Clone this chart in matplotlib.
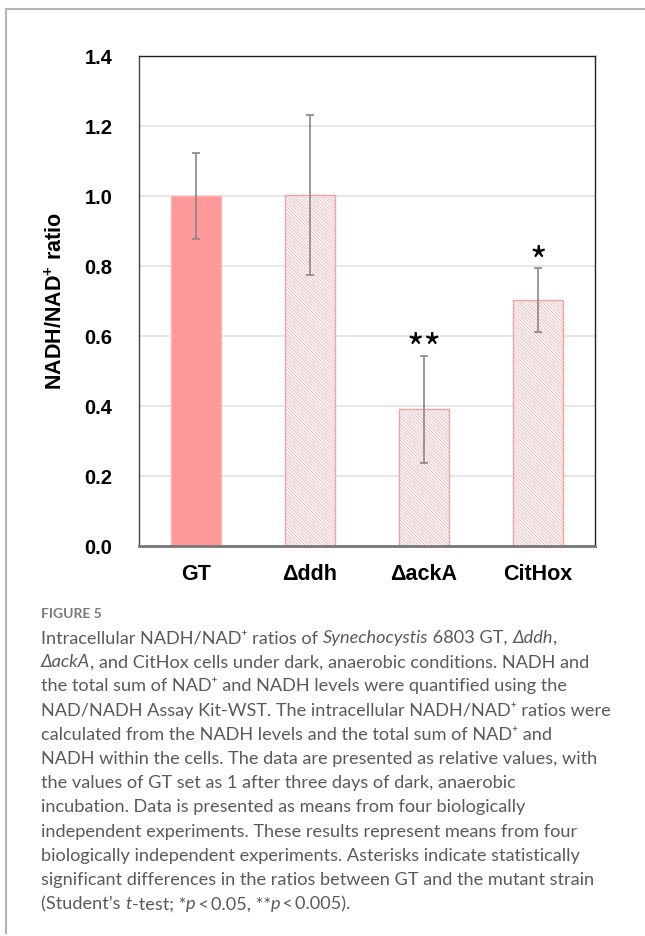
import matplotlib
matplotlib.use('Agg')
import matplotlib.pyplot as plt
from matplotlib.lines import Line2D


strains = ['GT', 'Δddh', 'ΔackA', 'CitHox']
ratio = [1.000, 1.002, 0.391, 0.702]
ratio_err = [0.123, 0.228, 0.153, 0.091]
stars = ['', '', '**', '*']
yticks = [0.0, 0.2, 0.4, 0.6, 0.8, 1.0, 1.2, 1.4]

# caption, one entry per printed line: (text, italic)
caption = [
    [('Intracellular NADH/NAD⁺ ratios of ', 0), ('Synechocystis', 1),
     (' 6803 GT, ', 0), ('Δddh', 1), (',', 0)],
    [('ΔackA', 1), (', and CitHox cells under dark, anaerobic conditions. NADH and', 0)],
    [('the total sum of NAD⁺ and NADH levels were quantified using the', 0)],
    [('NAD/NADH Assay Kit-WST. The intracellular NADH/NAD⁺ ratios were', 0)],
    [('calculated from the NADH levels and the total sum of NAD⁺ and', 0)],
    [('NADH within the cells. The data are presented as relative values, with', 0)],
    [('the values of GT set as 1 after three days of dark, anaerobic', 0)],
    [('incubation. Data is presented as means from four biologically', 0)],
    [('independent experiments. These results represent means from four', 0)],
    [('biologically independent experiments. Asterisks indicate statistically', 0)],
    [('significant differences in the ratios between GT and the mutant strain', 0)],
    [('(Student’s ', 0), ('t', 1), ('-test; *', 0), ('p', 1), ('\u2009<\u20090.05, **', 0),
     ('p', 1), ('\u2009<\u20090.005).', 0)],
]

plt.rcParams['mathtext.fontset'] = 'custom'
plt.rcParams['mathtext.rm'] = 'Liberation Sans'
plt.rcParams['mathtext.bf'] = 'Liberation Sans:bold'
plt.rcParams['hatch.linewidth'] = 0.5
plt.rcParams['font.family'] = ['Liberation Sans', 'DejaVu Sans']

W, H = 645, 936
fig = plt.figure(figsize=(W / 100, H / 100), dpi=100)
ax = fig.add_axes([139 / W, 1 - 546 / H, 456 / W, 490 / H])

pos = list(range(len(strains)))
bars = ax.bar(pos, ratio, width=0.44, color='white', edgecolor='#f2a3a3',
              linewidth=1.0, hatch='\\' * 10, zorder=2)
bars[0].set_facecolor('#ff9999')
bars[0].set_edgecolor('#ffb0b0')
bars[0].set_hatch(None)

ax.errorbar(pos, ratio, yerr=ratio_err, fmt='none', ecolor='#888888',
            elinewidth=1.2, capsize=3, capthick=1.2, zorder=3)

# significance marks sit just above the error bar caps
for p, r, e, s in zip(pos, ratio, ratio_err, stars):
    if s:
        ax.annotate(s, (p, r + e), xytext=(0, -11), textcoords='offset points',
                    ha='center', va='bottom', fontsize=27,
                    family=['Noto Sans CJK JP', 'DejaVu Sans'])

ax.set_xlim(-0.5, 3.5)
ax.set_ylim(0, 1.4)
ax.set_yticks(yticks)
ax.set_yticklabels([f'{t:.1f}' for t in yticks])
ax.set_xticks(pos)
ax.set_xticklabels(strains)
ax.tick_params(axis='y', length=0, pad=19, labelsize=14.5)
ax.tick_params(axis='x', length=0, pad=13, labelsize=15.5)
for lab in ax.get_xticklabels() + ax.get_yticklabels():
    lab.set_fontweight('bold')

ax.yaxis.grid(True, color='#e2e2e2', linewidth=1.2)
ax.set_axisbelow(True)
for side in ('top', 'right'):
    ax.spines[side].set_color('#222222')
    ax.spines[side].set_linewidth(1.0)
ax.spines['left'].set_color('#444444')
ax.spines['left'].set_linewidth(1.0)
ax.spines['bottom'].set_color('#777777')
ax.spines['bottom'].set_linewidth(2.0)

ax.set_ylabel(r'NADH/NAD$^{\mathbf{+}}$ ratio', fontsize=15.5, fontweight='bold')
ax.yaxis.set_label_coords(-0.1585, 0.5)

# outer frame (top and left edges visible)
fig.add_artist(Line2D([6 / W, 1], [1 - 9 / H, 1 - 9 / H], transform=fig.transFigure,
                      color='#b5b5b5', linewidth=1.5))
fig.add_artist(Line2D([6 / W, 6 / W], [1 - 9 / H, 1 - 933 / H], transform=fig.transFigure,
                      color='#b5b5b5', linewidth=1.5))

cap_font = dict(fontsize=13.1, family=['Lato', 'DejaVu Sans'], color='#5a5a5a')
fig.text(41 / W, 1 - 618 / H, 'FIGURE 5', fontsize=10, fontweight='bold',
         family=['Lato', 'DejaVu Sans'], color='#7a7a7a', va='baseline')

renderer = fig.canvas.get_renderer()


def seg_width(s, italic):
    style = 'italic' if italic else 'normal'
    a = fig.text(0, 0, 'x' + s + 'x', style=style, **cap_font)
    b = fig.text(0, 0, 'xx', style=style, **cap_font)
    w = a.get_window_extent(renderer).width - b.get_window_extent(renderer).width
    a.remove()
    b.remove()
    return w


base_y = 643
line_gap = 24.2
for i, line in enumerate(caption):
    x = 41
    y = base_y + i * line_gap
    for s, italic in line:
        fig.text(x / W, 1 - y / H, s, style='italic' if italic else 'normal',
                 va='baseline', ha='left', **cap_font)
        x += seg_width(s, italic)

fig.savefig('out.png', dpi=100)
